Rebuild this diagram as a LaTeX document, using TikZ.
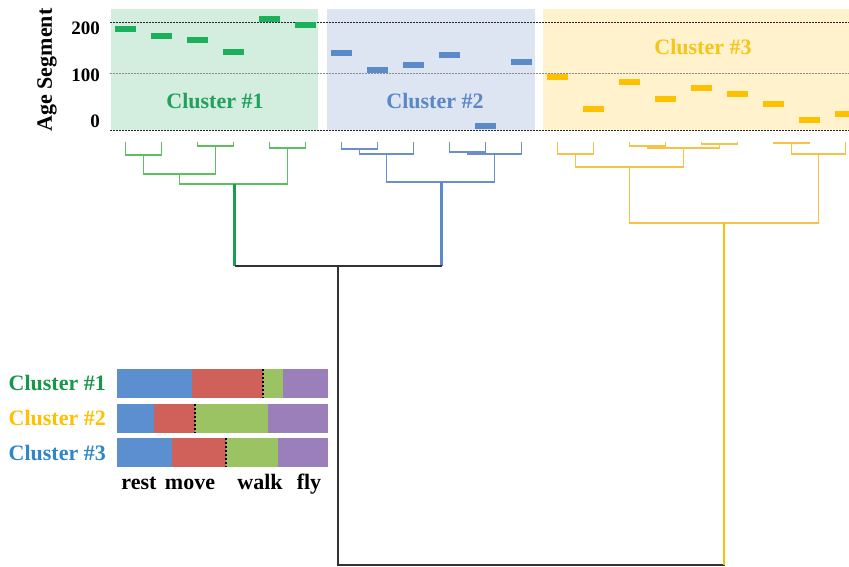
\documentclass[tikz,border=0pt]{standalone}
\usepackage{fontspec}
\setmainfont{Liberation Serif}
\definecolor{grnbox}{HTML}{D3EDDF}
\definecolor{blubox}{HTML}{DDE5F2}
\definecolor{ylwbox}{HTML}{FFF2CC}
\definecolor{grnbar}{HTML}{1CB05A}
\definecolor{blubar}{HTML}{5B8AC8}
\definecolor{ylwbar}{HTML}{FFC000}
\definecolor{grnline}{HTML}{5CC060}
\definecolor{bluline}{HTML}{6B8FCC}
\definecolor{ylwline}{HTML}{F8C246}
\definecolor{grntxt}{HTML}{22A05E}
\definecolor{blutxt}{HTML}{5B87C5}
\definecolor{ylwtxt}{HTML}{F5C518}
\definecolor{keyblue}{HTML}{2E86C8}
\definecolor{segrest}{HTML}{5B8FD0}
\definecolor{segmove}{HTML}{D0605A}
\definecolor{segwalk}{HTML}{9BC263}
\definecolor{segfly}{HTML}{9B7FBA}
\tikzset{
  basic/.style  = {font=\bfseries\fontsize{22}{26}\selectfont, inner sep=0pt},
  tick/.style   = {basic, font=\bfseries\fontsize{19}{22}\selectfont, anchor=east},
  grid/.style   = {line width=0.9pt, dash pattern=on 2pt off 1pt},
  gline/.style  = {grnline, line width=1.6pt},
  bline/.style  = {bluline, line width=1.6pt},
  yline/.style  = {ylwline, line width=1.6pt},
  trunk/.style  = {line width=2.4pt},
  rootline/.style = {black!80, line width=1.5pt},
  split/.style  = {black, line width=2.8pt, dash pattern=on 2pt off 2pt}
}

\begin{document}
\begin{tikzpicture}[x=1pt, y=-1pt]
\useasboundingbox (0,0) rectangle (849,567);
\clip (0,0) rectangle (849,567);

% coloured cluster areas
\fill[grnbox] (111,9) rectangle (318,130);
\fill[blubox] (327,9) rectangle (535,130);
\fill[ylwbox] (543,9) rectangle (849,130);

% horizontal reference lines at 200, 100 and 0
\foreach \y/\c in {22/black!85, 73/black!45, 130/black!85}
  \draw[grid, \c] (110,\y) -- (849,\y);

% axis
\node[basic, rotate=90] (axis) at (47,70) {Age Segment};
\node[tick] (t200) at (100,28) {200};
\node[tick] (t100) at (100,75) {100};
\node[tick] (t0) at (100,121) {0};

% age segments of every leaf
\foreach \y [count=\i from 0] in {29,36,40,52,19,25}
  \fill[grnbar] ({115+36*\i},\y-3) rectangle ++(21,6);
\foreach \y [count=\i from 6] in {53,70,65,55,126,62}
  \fill[blubar] ({115+36*\i},\y-3) rectangle ++(21,6);
\foreach \y [count=\i from 12] in {77,109,82,99,88,94,104,120,114}
  \fill[ylwbar] ({115+36*\i},\y-3) rectangle ++(21,6);

\node[basic, grntxt] (n1) at (215,101) {Cluster \#1};
\node[basic, blutxt] (n2) at (435,101) {Cluster \#2};
\node[basic, ylwtxt] (n3) at (703,47) {Cluster \#3};

% leaves of the dendrogram
\foreach \i in {0,...,20}
  \coordinate (L\i) at ({125.5+36*\i},142);

% merge points
\coordinate (g1) at (143.5,155);
\coordinate (g2) at (215.5,146);
\coordinate (g3) at (287.5,148);
\coordinate (g4) at (179.5,174);
\coordinate (g5) at (234.5,184);
\coordinate (b1) at (359.5,149);
\coordinate (b2) at (386.5,154);
\coordinate (b3) at (467.5,152);
\coordinate (b4) at (494.5,154);
\coordinate (b5) at (441.5,182);
\coordinate (y1) at (575.5,154);
\coordinate (y2) at (647.5,146);
\coordinate (y3) at (719.5,144);
\coordinate (y4) at (683.5,148);
\coordinate (y5) at (629.5,167);
\coordinate (y6) at (791.5,143);
\coordinate (y7) at (818.5,154);
\coordinate (y8) at (724,223);
\coordinate (r1) at (338,266);
\coordinate (r2) at (531,565);

% cluster #1
\draw[gline] (L0) |- (g1) -| (L1);
\draw[gline] (L2) |- (g2) -| (L3);
\draw[gline] (L4) |- (g3) -| (L5);
\draw[gline] (g1) |- (g4) -| (g2);
\draw[gline] (g4) |- (g5) -| (g3);

% cluster #2
\draw[bline] (L6) |- (b1) -| (L7);
\draw[bline] (b1) |- (b2) -| (L8);
\draw[bline] (L9) |- (b3) -| (L10);
\draw[bline] (b3) |- (b4) -| (L11);
\draw[bline] (b2) |- (b5) -| (b4);

% cluster #3
\draw[yline] (L12) |- (y1) -| (L13);
\draw[yline] (L14) |- (y2) -| (L15);
\draw[yline] (L16) |- (y3) -| (L17);
\draw[yline] (y2) |- (y4) -| (y3);
\draw[yline] (y1) |- (y5) -| (y4);
\draw[yline] (L18) |- (y6) -| (L19);
\draw[yline] (y6) |- (y7) -| (L20);
\draw[yline] (y5) |- (y8) -| (y7);

% trunks and root
\draw[trunk, grnbar!90!black] (g5) -- (g5 |- r1);
\draw[trunk, blubar] (b5) -- (b5 |- r1);
\draw[rootline] (g5 |- r1) -- (b5 |- r1);
\draw[rootline] (r1) |- (r2) -| (y8);
\draw[trunk, ylwbar] (y8) -- (y8 |- r2);

% behaviour shares per cluster
\foreach \top/\a/\b/\c in {369/192/263/283, 404/154/195/268, 438/172/226/278} {
  \fill[segrest] (117,\top) rectangle (\a,\top+29);
  \fill[segmove] (\a,\top) rectangle (\b,\top+29);
  \fill[segwalk] (\b,\top) rectangle (\c,\top+29);
  \fill[segfly] (\c,\top) rectangle (328,\top+29);
  \draw[split] (\b,\top) -- (\b,\top+29);
}
\node[basic, grnbar!85!black, anchor=east] (k1) at (106,383.5) {Cluster \#1};
\node[basic, ylwbar, anchor=east] (k2) at (106,418) {Cluster \#2};
\node[basic, keyblue, anchor=east] (k3) at (106,452.5) {Cluster \#3};

\node[basic, anchor=base] (rest) at (139,489) {rest};
\node[basic, anchor=base] (move) at (190,489) {move};
\node[basic, anchor=base] (walk) at (260,489) {walk};
\node[basic, anchor=base] (fly) at (309,489) {fly};

\end{tikzpicture}
\end{document}
